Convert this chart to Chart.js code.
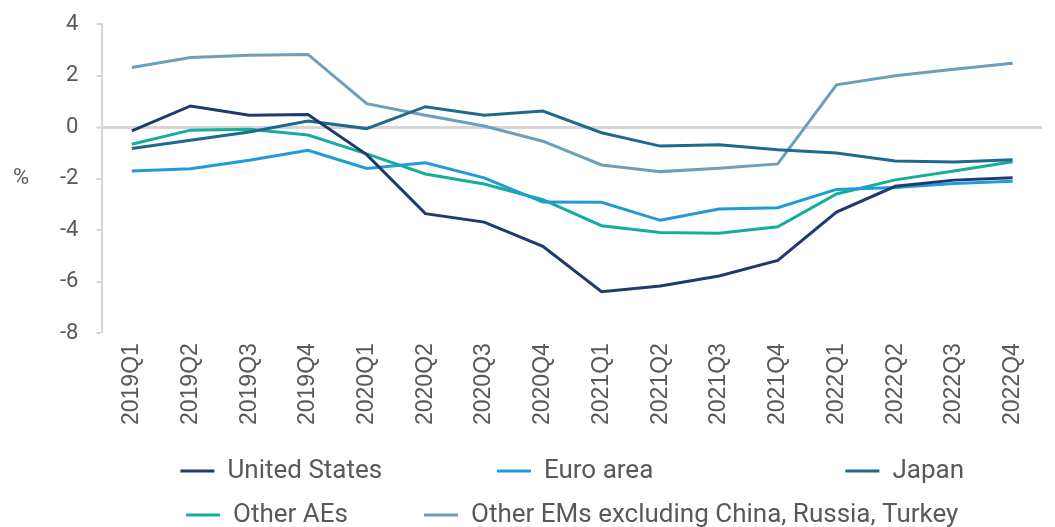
<!DOCTYPE html>
<html>
<head>
<meta charset="utf-8">
<script src="https://cdn.jsdelivr.net/npm/chart.js@4"></script>
<style>
  html, body { margin: 0; padding: 0; background: #ffffff; }
</style>
</head>
<body>
<canvas id="chart" width="1055" height="527"></canvas>
<script>
// quarters on the x axis
const quarters = ['2019Q1', '2019Q2', '2019Q3', '2019Q4', '2020Q1', '2020Q2', '2020Q3', '2020Q4',
  '2021Q1', '2021Q2', '2021Q3', '2021Q4', '2022Q1', '2022Q2', '2022Q3', '2022Q4'];

// values in %
const unitedStates = [-0.15, 0.82, 0.46, 0.49, -1.07, -3.36, -3.69, -4.63, -6.39, -6.17, -5.78, -5.18, -3.30, -2.30, -2.06, -1.97];
const euroArea = [-1.71, -1.62, -1.29, -0.90, -1.61, -1.39, -1.97, -2.91, -2.92, -3.62, -3.18, -3.13, -2.42, -2.35, -2.19, -2.10];
const japan = [-0.83, -0.51, -0.19, 0.23, -0.06, 0.79, 0.46, 0.62, -0.22, -0.74, -0.69, -0.88, -1.01, -1.32, -1.36, -1.27];
const otherAEs = [-0.67, -0.12, -0.09, -0.31, -1.04, -1.82, -2.21, -2.82, -3.83, -4.09, -4.12, -3.87, -2.60, -2.05, -1.71, -1.35];
const otherEMs = [2.31, 2.70, 2.79, 2.82, 0.91, 0.46, 0.04, -0.55, -1.47, -1.73, -1.60, -1.43, 1.64, 1.99, 2.24, 2.48];

const seriesNames = ['United States', 'Euro area', 'Japan', 'Other AEs', 'Other EMs excluding China, Russia, Turkey'];
const yTicks = [4, 2, 0, -2, -4, -6, -8];

const colors = ['#1f3a6e', '#1f9bd9', '#1d6a8e', '#17ad9c', '#6b9fba'];
const greyText = '#595959';
const axisGrey = '#d6d6da';

const legendFont = { family: 'Roboto', size: 26 };
const legendPad = 18;
const legendBox = 34;
// slot widths (item + padding) so the legend falls in columns like the original
const legendSlots = [317, 353, 0, 238, 0];

const makeLine = (label, data, color) => ({
  label,
  data,
  borderColor: color,
  backgroundColor: color,
  borderWidth: 3,
  pointRadius: 0,
  tension: 0,
  fill: false,
});

// "%" unit label next to the y axis
const unitLabel = {
  id: 'unitLabel',
  afterDraw(chart) {
    const { ctx } = chart;
    const y = chart.scales.y.getPixelForValue(-2);
    ctx.save();
    ctx.font = '22px Roboto';
    ctx.fillStyle = greyText;
    ctx.textAlign = 'center';
    ctx.textBaseline = 'middle';
    ctx.fillText('%', 21, y);
    ctx.restore();
  }
};

new Chart(document.getElementById('chart'), {
  type: 'line',
  data: {
    labels: quarters,
    datasets: [
      makeLine(seriesNames[0], unitedStates, colors[0]),
      makeLine(seriesNames[1], euroArea, colors[1]),
      makeLine(seriesNames[2], japan, colors[2]),
      makeLine(seriesNames[3], otherAEs, colors[3]),
      makeLine(seriesNames[4], otherEMs, colors[4]),
    ]
  },
  options: {
    responsive: false,
    animation: false,
    devicePixelRatio: 1,
    layout: { padding: { left: 42, right: 13, top: 24, bottom: -11 } },
    scales: {
      x: {
        offset: true,
        grid: { display: false, drawTicks: false },
        border: { display: false },
        ticks: {
          minRotation: 90,
          maxRotation: 90,
          padding: 10,
          color: greyText,
          font: { family: 'Liberation Sans', size: 23 },
        },
        // empty title, only keeps a little room under the tick labels
        title: { display: true, text: '', padding: 0, font: { size: 10, lineHeight: 0.5 } }
      },
      y: {
        min: -8,
        max: 4,
        afterBuildTicks: (scale) => { scale.ticks = yTicks.map(v => ({ value: v })); },
        // tick padding is only meant sideways here
        afterFit: (scale) => { scale.paddingTop = 0; scale.paddingBottom = 0; },
        grid: {
          color: (c) => (c.tick && c.tick.value === 0 ? axisGrey : 'rgba(0,0,0,0)'),
          lineWidth: (c) => (c.tick && c.tick.value === 0 ? 3 : 0),
          tickColor: axisGrey,
          tickWidth: 2,
          tickLength: 6,
        },
        border: { display: true, color: axisGrey, width: 2 },
        ticks: {
          padding: 18,
          color: greyText,
          font: { family: 'Roboto', size: 22 },
        }
      }
    },
    plugins: {
      tooltip: { enabled: false },
      legend: {
        position: 'bottom',
        fullSize: false,
        labels: {
          boxWidth: legendBox,
          boxHeight: 3,
          padding: legendPad,
          color: greyText,
          font: legendFont,
          generateLabels(chart) {
            const items = Chart.defaults.plugins.legend.labels.generateLabels(chart);
            const ctx = chart.ctx;
            ctx.save();
            ctx.font = legendFont.size + 'px ' + legendFont.family;
            items.forEach((it, i) => {
              it.lineWidth = 0;
              it.fillStyle = colors[i];
              const slot = legendSlots[i];
              if (!slot) return;
              const target = slot - legendPad - legendBox - legendFont.size / 2;
              while (ctx.measureText(it.text + ' ').width <= target) it.text += ' ';
            });
            ctx.restore();
            return items;
          }
        }
      }
    }
  },
  plugins: [unitLabel]
});
</script>
</body>
</html>
